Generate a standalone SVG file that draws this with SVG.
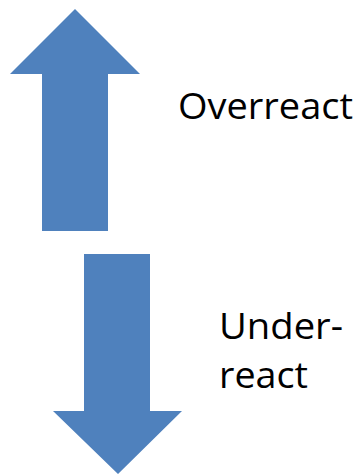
<svg xmlns="http://www.w3.org/2000/svg" width="362" height="474" viewBox="0 0 362 474">
  <style>
    .arrow { fill: #4F81BD; }
    .label { font-family: "Open Sans", "Liberation Sans", sans-serif; font-size: 36px; fill: #000000; }
  </style>
  <rect width="362" height="474" fill="#FFFFFF"/>
  <g id="up-arrow">
    <polygon class="arrow" points="75,9 140,74 108,74 108,231 42,231 42,74 10,74"/>
  </g>
  <g id="down-arrow">
    <polygon class="arrow" points="84,254 150,254 150,411 182,411 118,474 53,411 84,411"/>
  </g>
  <g id="label-overreact">
    <text class="label" x="178" y="119" textLength="175" lengthAdjust="spacingAndGlyphs">Overreact</text>
  </g>
  <g id="label-underreact">
    <text class="label" x="219" y="339" textLength="124" lengthAdjust="spacingAndGlyphs">Under-</text>
    <text class="label" x="219" y="388" textLength="89" lengthAdjust="spacingAndGlyphs">react</text>
  </g>
  <g id="connectors"/>
</svg>
